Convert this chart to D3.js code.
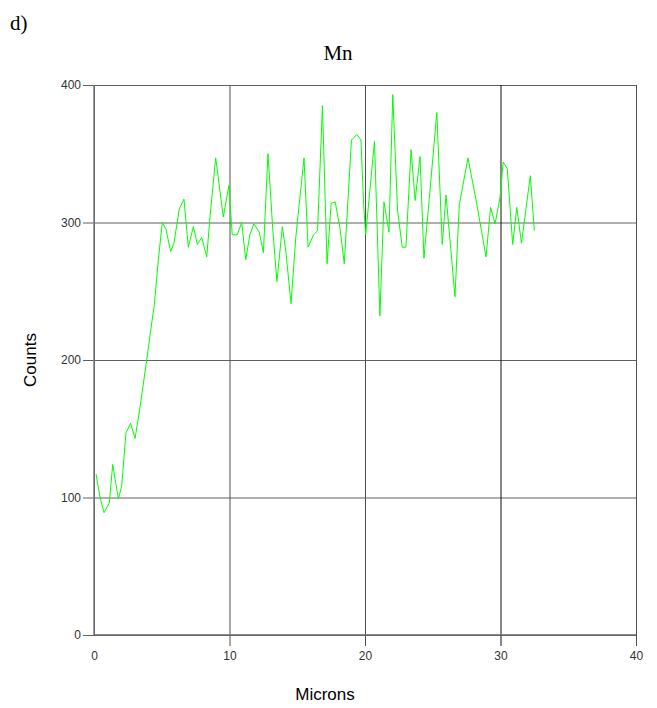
<!DOCTYPE html>
<html>
<head>
<meta charset="utf-8">
<script src="https://cdn.jsdelivr.net/npm/d3@7"></script>
<style>
  body { margin: 0; background: #fff; }
  svg { display: block; }
</style>
</head>
<body>
<div id="chart"></div>
<script>
// Mn line scan, counts against distance in microns

const microns = [0.15, 0.45, 0.74, 1.13, 1.38, 1.8, 2.04, 2.36, 2.7, 3.03, 3.4, 3.89, 4.26, 4.45, 4.75,
  5.04, 5.31, 5.66, 5.9, 6.3, 6.64, 6.96, 7.33, 7.63, 7.95, 8.32, 8.56, 8.98, 9.17, 9.54, 9.96,
  10.2, 10.57, 10.9, 11.2, 11.5, 11.8, 12.2, 12.5, 12.84, 13.2, 13.5, 13.9, 14.17, 14.54, 14.9,
  15.5, 15.8, 16.2, 16.5, 16.86, 17.2, 17.5, 17.8, 18.15, 18.47, 19.0, 19.4, 19.7, 19.9, 20.05,
  20.7, 21.1, 21.4, 21.77, 22.05, 22.4, 22.75, 23.02, 23.4, 23.7, 24.06, 24.35, 24.75, 25.3,
  25.7, 25.98, 26.64, 26.96, 27.6, 28.24, 28.93, 29.27, 29.6, 29.96, 30.2, 30.5, 30.9, 31.2,
  31.55, 32.2, 32.5];
const counts = [117, 100, 89, 96, 124, 99, 108, 147, 154, 143, 166, 200, 227, 240, 273,
  300, 295, 279, 285, 310, 317, 282, 297, 284, 289, 275, 304, 347, 333, 304, 327,
  291, 291, 300, 273, 291, 299, 293, 278, 350, 294, 257, 297, 278, 241, 290,
  347, 282, 291, 294, 385, 270, 314, 315, 296, 270, 360, 364, 360, 313, 291,
  359, 232, 315, 293, 393, 309, 282, 282, 353, 316, 348, 274, 318, 380,
  284, 320, 246, 313, 347, 314, 275, 311, 299, 318, 344, 339, 284, 311,
  285, 334, 294];

const xTicks = [0, 10, 20, 30, 40];
const yTicks = [0, 100, 200, 300, 400];

const W = 657, H = 708;
const margin = { top: 85, right: 21, bottom: 73, left: 94 };
const width = W - margin.left - margin.right;
const height = H - margin.top - margin.bottom;

const svg = d3.select("#chart").append("svg")
  .attr("width", W)
  .attr("height", H);

const g = svg.append("g")
  .attr("transform", "translate(" + margin.left + "," + margin.top + ")");

const x = d3.scaleLinear().domain([0, 40]).range([0, width]);
const y = d3.scaleLinear().domain([0, 400]).range([height, 0]);

// horizontal gridlines + left ticks
g.append("g")
  .call(d3.axisLeft(y).tickValues(yTicks).tickSize(-width).tickPadding(13))
  .call(a => a.select(".domain").remove())
  .call(a => a.selectAll("line").attr("stroke", "#606060").attr("x1", -11))
  .call(a => a.selectAll("text")
    .attr("font-family", "'Liberation Sans Narrow', 'Liberation Sans', Arial, sans-serif")
    .attr("font-size", 12).attr("fill", "#333"));

// vertical gridlines, poking below the axis
g.append("g")
  .attr("transform", "translate(0," + height + ")")
  .call(d3.axisBottom(x).tickValues(xTicks).tickSize(0).tickPadding(16))
  .call(a => a.select(".domain").remove())
  .call(a => a.selectAll("line")
    .attr("stroke", d => d === 30 ? "#111" : "#505050")
    .attr("y1", d => d === 0 ? 0 : 11)
    .attr("y2", -height))
  .call(a => a.selectAll("text")
    .attr("font-family", "'Liberation Sans Narrow', 'Liberation Sans', Arial, sans-serif")
    .attr("font-size", 12).attr("fill", "#333"));

// axis lines
g.append("line").attr("x1", 0).attr("x2", 0).attr("y1", 0).attr("y2", height)
  .attr("stroke", "#777").attr("stroke-width", 1.5);
g.append("line").attr("x1", 0).attr("x2", width).attr("y1", height).attr("y2", height)
  .attr("stroke", "#666").attr("stroke-width", 1.5);

// the scan
const pts = microns.map((m, i) => [m, counts[i]]);
g.append("path")
  .datum(pts)
  .attr("fill", "none")
  .attr("stroke", "#00ff00")
  .attr("stroke-width", 1)
  .attr("d", d3.line().x(d => x(d[0])).y(d => y(d[1])));

// titles
svg.append("text")
  .attr("x", 10).attr("y", 30)
  .attr("font-family", "'Liberation Serif', 'Times New Roman', serif")
  .attr("font-size", 21)
  .text("d)");

svg.append("text")
  .attr("x", 338).attr("y", 60)
  .attr("text-anchor", "middle")
  .attr("font-family", "'Liberation Serif', 'Times New Roman', serif")
  .attr("font-size", 21)
  .text("Mn");

svg.append("text")
  .attr("x", 325).attr("y", 700)
  .attr("text-anchor", "middle")
  .attr("font-family", "'Liberation Sans', Arial, sans-serif")
  .attr("font-size", 17)
  .text("Microns");

svg.append("text")
  .attr("transform", "translate(36,360) rotate(-90)")
  .attr("text-anchor", "middle")
  .attr("font-family", "'Liberation Sans', Arial, sans-serif")
  .attr("font-size", 17)
  .text("Counts");
</script>
</body>
</html>
